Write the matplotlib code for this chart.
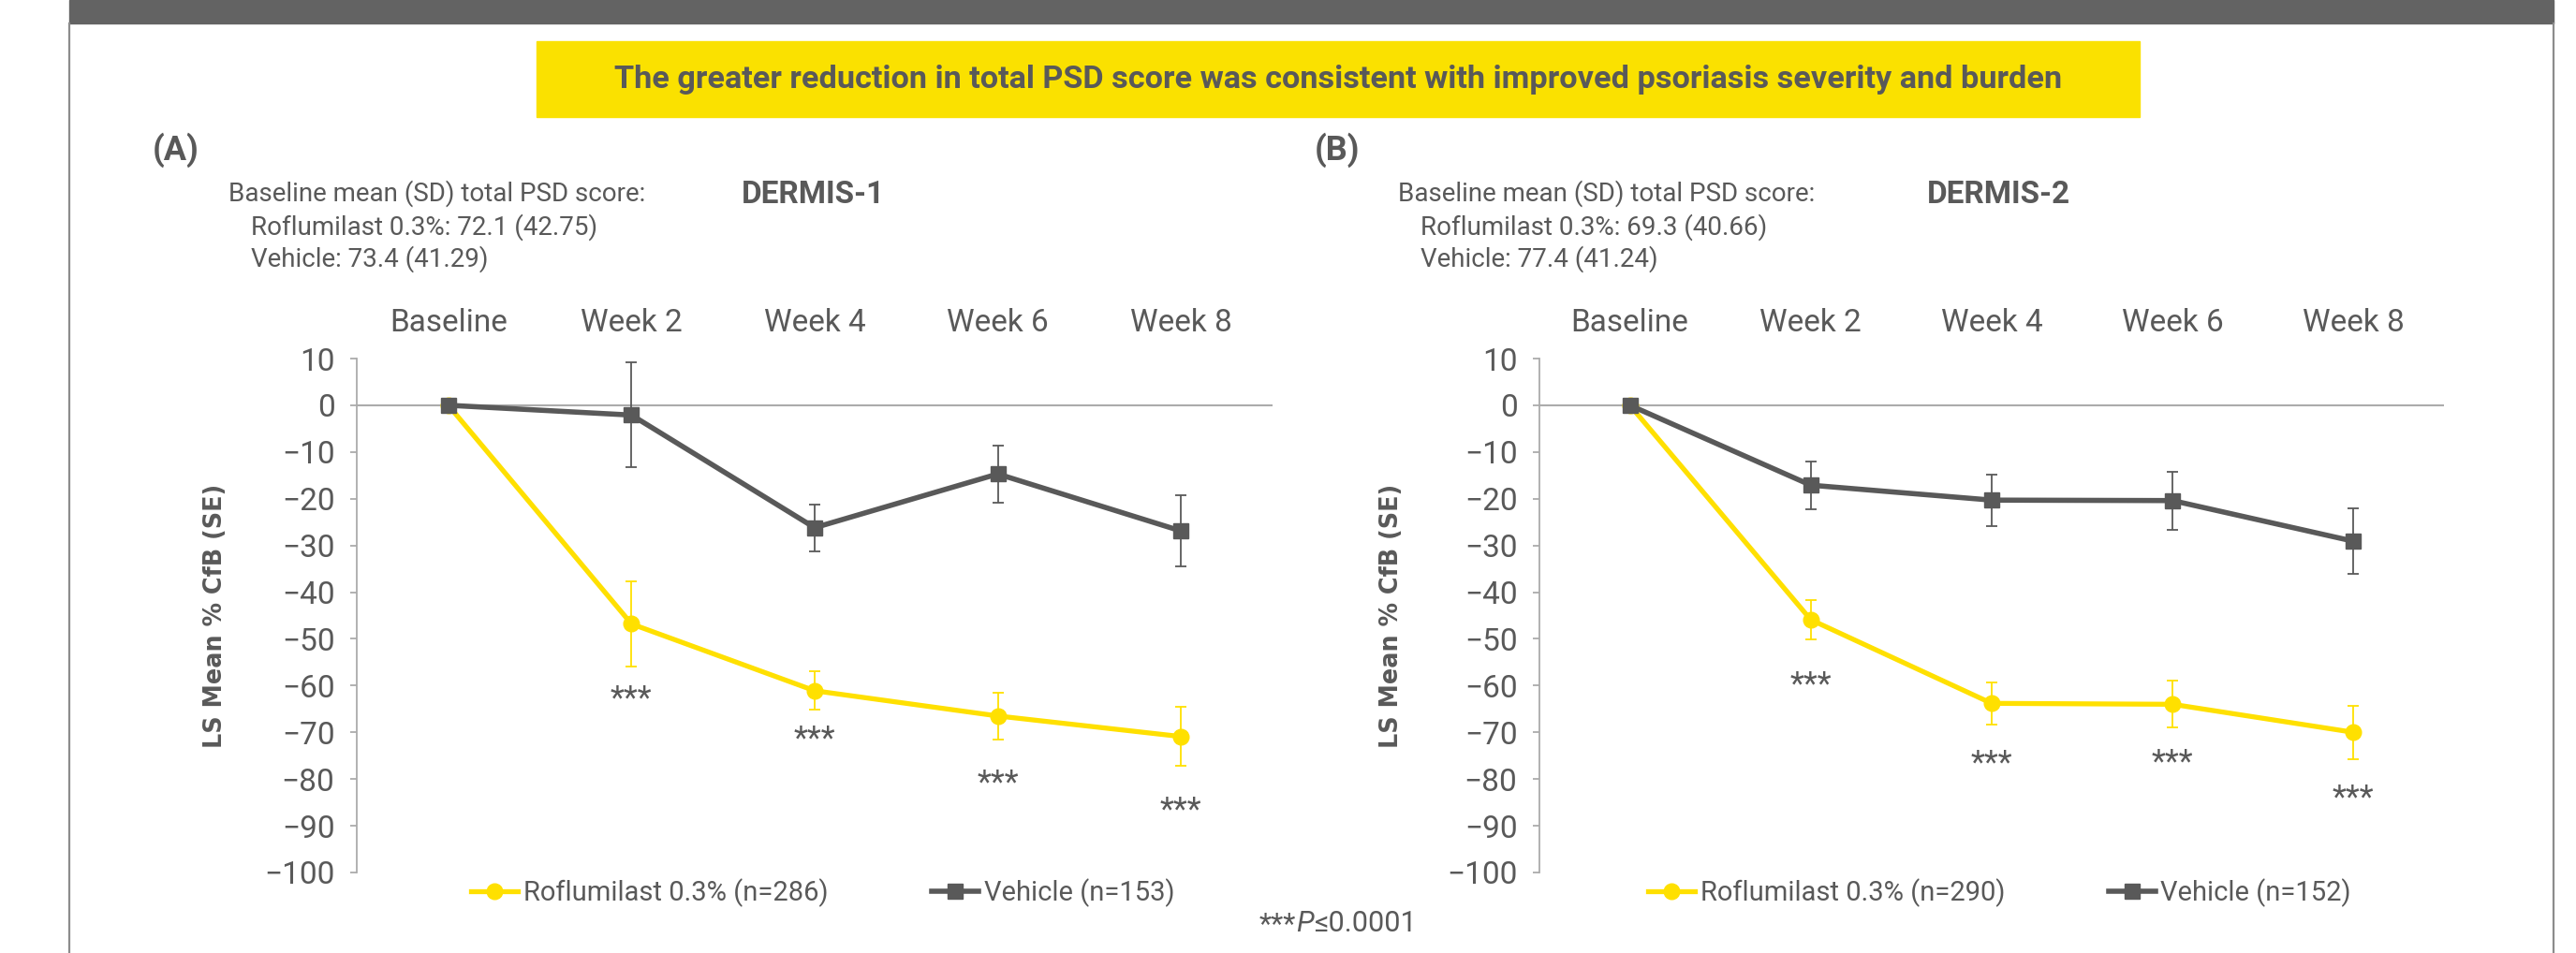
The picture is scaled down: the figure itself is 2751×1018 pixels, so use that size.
import matplotlib
matplotlib.use("Agg")
import matplotlib.pyplot as plt
from matplotlib.patches import Rectangle
from matplotlib.lines import Line2D

plt.rcParams["font.family"] = ["Roboto", "DejaVu Sans"]
plt.rcParams["axes.unicode_minus"] = True

TXT = "#595959"
YEL = "#FFE000"
VEH = "#595959"
AXC = "#ABABAB"

weeks = ["Baseline", "Week 2", "Week 4", "Week 6", "Week 8"]
yticks = list(range(-100, 11, 10))

# DERMIS-1 (LS mean % CfB, SE)
d1_rof = [0, -46.8, -61.1, -66.5, -70.9]
d1_rof_se = [0, 9.1, 4.1, 5.0, 6.3]
d1_veh = [0, -2.1, -26.2, -14.7, -26.9]
d1_veh_se = [0, 11.2, 5.0, 6.1, 7.6]
d1_stars = [None, -61.0, -69.5, -79.0, -84.7]
d1_n = (286, 153)
d1_base = ["Roflumilast 0.3%: 72.1 (42.75)", "Vehicle: 73.4 (41.29)"]

# DERMIS-2
d2_rof = [0, -45.9, -63.8, -64.0, -70.0]
d2_rof_se = [0, 4.2, 4.5, 5.0, 5.7]
d2_veh = [0, -17.1, -20.3, -20.4, -29.1]
d2_veh_se = [0, 5.1, 5.5, 6.2, 7.0]
d2_stars = [None, -57.9, -74.8, -74.6, -82.1]
d2_n = (290, 152)
d2_base = ["Roflumilast 0.3%: 69.3 (40.66)", "Vehicle: 77.4 (41.24)"]

W, H = 2751, 1018
fig = plt.figure(figsize=(W / 100, H / 100), dpi=100)


def px(x, y):
    return x / W, 1 - y / H


# frame: top bar + side borders
fig.patches.append(Rectangle(px(74, 25), (2727 - 74) / W, 25 / H,
                             transform=fig.transFigure, color="#636363", zorder=0))
for xb in (74, 2727):
    fig.add_artist(Line2D([xb / W, xb / W], [0, 1 - 25 / H], transform=fig.transFigure,
                          color="#8C8C8C", lw=1.6))

# banner
fig.patches.append(Rectangle(px(573, 125), (2285 - 573) / W, 81 / H,
                             transform=fig.transFigure, color="#FAE100", zorder=0))
fig.text(*px(1429, 85), "The greater reduction in total PSD score was consistent with improved psoriasis severity and burden",
         ha="center", va="center", fontsize=24.7, fontweight="bold", color=TXT)


def panel(rect, rof, rof_se, veh, veh_se, stars, n, base, tag, study, tag_x, base_x, study_x, ylab_x):
    ax = fig.add_axes(rect)
    x = list(range(len(weeks)))
    ax.axhline(0, color=AXC, lw=1.5, zorder=1)

    ax.errorbar(x[1:], rof[1:], yerr=rof_se[1:], fmt="none", ecolor=YEL, elinewidth=1.3,
                capsize=4.3, capthick=1.3, zorder=2)
    ax.plot(x, rof, color=YEL, lw=3.8, marker="o", ms=12, mec=YEL, zorder=3)
    ax.errorbar(x[1:], veh[1:], yerr=veh_se[1:], fmt="none", ecolor=VEH, elinewidth=1.3,
                capsize=4.3, capthick=1.3, zorder=4)
    ax.plot(x, veh, color=VEH, lw=4, marker="s", ms=12, mec=VEH, zorder=5)

    for xi, s in zip(x, stars):
        if s is not None:
            ax.annotate("***", (xi, s), xytext=(0, -14), textcoords="offset points",
                        ha="center", va="baseline", fontsize=25, color=TXT)

    ax.set_xlim(-0.5, 4.5)
    ax.set_ylim(-100, 10)
    ax.set_yticks(yticks)
    ax.set_xticks(x)
    ax.set_xticklabels(weeks)
    ax.xaxis.set_ticks_position("top")
    ax.tick_params(axis="x", length=0, pad=16, labelsize=24, labelcolor=TXT)
    ax.tick_params(axis="y", length=5, width=1.3, color=AXC, pad=12, labelsize=24, labelcolor=TXT)
    for s in ("top", "right", "bottom"):
        ax.spines[s].set_visible(False)
    ax.spines["left"].set_color(AXC)
    ax.spines["left"].set_linewidth(1.3)

    ax.text(ylab_x, 0.5, "LS Mean % CfB (SE)", transform=ax.transAxes, rotation=90,
            ha="center", va="center", fontsize=18.4, fontweight="bold", color=TXT,
            family="DejaVu Sans")

    h_rof = Line2D([], [], color=YEL, lw=3.8, marker="o", ms=12)
    h_veh = Line2D([], [], color=VEH, lw=4, marker="s", ms=12)
    leg = ax.legend([h_rof, h_veh], [f"Roflumilast 0.3% (n={n[0]})", f"Vehicle (n={n[1]})"],
                    loc="center", bbox_to_anchor=(0.509, -0.04), ncol=2, frameon=False,
                    fontsize=21, handlelength=1.7, handletextpad=0.2, columnspacing=3.8,
                    borderpad=0, borderaxespad=0)
    for t in leg.get_texts():
        t.set_color(TXT)

    fig.text(*px(tag_x, 160), tag, ha="left", va="center", fontsize=26, fontweight="bold", color=TXT)
    fig.text(*px(base_x, 207), "Baseline mean (SD) total PSD score:", ha="left", va="center",
             fontsize=20, color=TXT)
    fig.text(*px(base_x + 24, 243), base[0], ha="left", va="center", fontsize=20, color=TXT)
    fig.text(*px(base_x + 24, 277), base[1], ha="left", va="center", fontsize=20, color=TXT)
    fig.text(*px(study_x, 208), study, ha="left", va="center", fontsize=24, fontweight="bold", color=TXT)
    return ax


panel([381 / W, 1 - 932 / H, 978 / W, 549 / H], d1_rof, d1_rof_se, d1_veh, d1_veh_se,
      d1_stars, d1_n, d1_base, "(A)", "DERMIS-1", 163, 244, 792, -0.154)
panel([1644 / W, 1 - 932 / H, 966 / W, 549 / H], d2_rof, d2_rof_se, d2_veh, d2_veh_se,
      d2_stars, d2_n, d2_base, "(B)", "DERMIS-2", 1404, 1493, 2058, -0.164)

# footnote: ***P<=0.0001 with italic P
t1 = fig.text(*px(1345, 988), "***", ha="left", va="center", fontsize=22, color=TXT)
t2 = fig.text(0, 0, "P", fontsize=22, color=TXT, style="italic", ha="left", va="baseline")
t3 = fig.text(0, 0, "≤0.0001", fontsize=22, color=TXT, ha="left", va="baseline")
fig.canvas.draw()
r = fig.canvas.get_renderer()
bb = t1.get_window_extent(r)
base_y = bb.y0 + 0.25 * bb.height
t2.set_position((bb.x1 / W, base_y / H))
bb2 = t2.get_window_extent(r)
t3.set_position((bb2.x1 / W, base_y / H))

fig.savefig("out.png", dpi=100)
